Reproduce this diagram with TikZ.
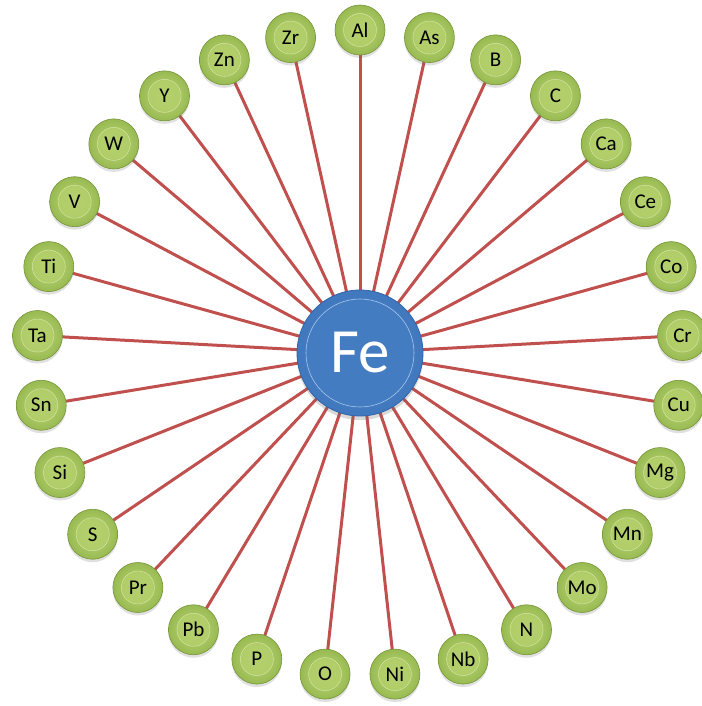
\documentclass[tikz,border=0pt]{standalone}
\usepackage{fontspec}
\setmainfont{Carlito}
\usetikzlibrary{shadows,calc}
\pgfdeclarelayer{background}
\pgfsetlayers{background,main}
\definecolor{linered}{RGB}{192,80,77}
\definecolor{gdark}{RGB}{118,148,56}
\definecolor{gmid}{RGB}{152,186,82}
\definecolor{glight}{RGB}{192,216,122}
\definecolor{ginner}{RGB}{176,205,104}
\definecolor{bdark}{RGB}{50,100,168}
\definecolor{bmid}{RGB}{68,124,194}
\definecolor{blight}{RGB}{110,160,220}
\tikzset{
  x=1pt, y=1pt,
  elem/.style={circle, minimum size=50pt, inner sep=0pt, draw=gdark, line width=0.6pt,
    inner color=glight, outer color=gmid,
    drop shadow={shadow xshift=0pt, shadow yshift=-3pt, opacity=0.2, fill=black!60}},
  innerg/.style={circle, minimum size=33pt, inner sep=0pt, draw=glight!70!white, line width=0.5pt,
    inner color=ginner!70!glight, outer color=ginner,
    font=\fontsize{21}{21}\selectfont, text=black},
  fecirc/.style={circle, minimum size=126pt, inner sep=0pt, draw=bdark, line width=0.8pt,
    inner color=bmid, outer color=bmid!85!bdark,
    drop shadow={shadow xshift=0pt, shadow yshift=-4pt, opacity=0.25, fill=black!60}},
  feinner/.style={circle, minimum size=108pt, inner sep=0pt, draw=blight!60!white, line width=0.6pt,
    fill=bmid, font=\fontsize{63}{63}\selectfont, text=white},
  conn/.style={draw=linered, line width=3pt}
}
\begin{document}
\begin{tikzpicture}
\useasboundingbox (0,0) rectangle (701,-706);
\node[fecirc] (fe) at (360,-353) {};
\node[feinner] (felabel) at (fe.center) {Fe};
\foreach \n [count=\i from 0] in {Al,As,B,C,Ca,Ce,Co,Cr,Cu,Mg,Mn,Mo,N,Nb,Ni,O,P,Pb,Pr,S,Si,Sn,Ta,Ti,V,W,Y,Zn,Zr} {
  \pgfmathsetmacro\a{90-\i*360/29}
  \node[elem] (e-\n) at ({360+323*cos(\a)},{-353+323*sin(\a)}) {};
  \node[innerg] (i-\n) at (e-\n.center) {\n};
  \begin{pgfonlayer}{background}
    \draw[conn] (fe.center) -- (e-\n.center);
  \end{pgfonlayer}
}
\end{tikzpicture}
\end{document}
